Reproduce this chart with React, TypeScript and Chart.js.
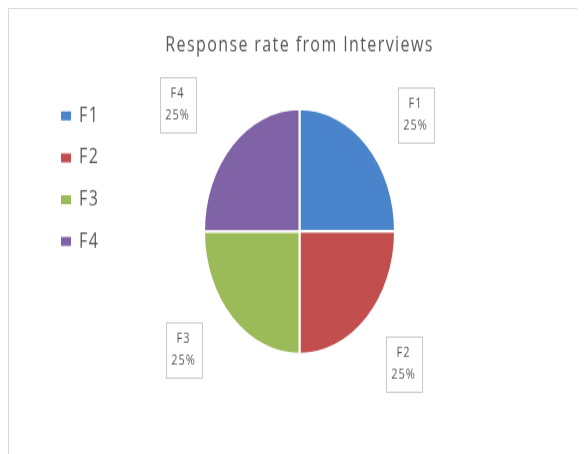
import React, { useEffect, useRef } from "react";
import { Chart, registerables } from "chart.js";

Chart.register(...registerables);

const categories = ["F1", "F2", "F3", "F4"];
const values = [25, 25, 25, 25];
const colors = ["#4A84CA", "#C24F4E", "#9BBB59", "#8062A6"];
const titleText = "Response rate from Interviews";

const SCALE_Y = 1.284;
const CW = 568;
const CH = 345;
const FONT = "'Open Sans', sans-serif";
const TEXT_COLOR = "#595959";
// offsets of the boxed data labels from the pie centre (unscaled canvas px)
const labelOffsets: [number, number][] = [
  [116, -91],
  [104, 103],
  [-116, 92],
  [-122, -99],
];

const total = values.reduce((a, b) => a + b, 0);
const percentLabels = values.map((v) => Math.round((v / total) * 100) + "%");

const spacing = {
  id: "letterSpacing",
  beforeDraw(chart: any) {
    chart.ctx.letterSpacing = "1.4px";
  },
  afterDraw(chart: any) {
    chart.ctx.letterSpacing = "0px";
  },
};

const boxedLabels = {
  id: "boxedLabels",
  afterDatasetsDraw(chart: any) {
    const ctx = chart.ctx;
    const meta = chart.getDatasetMeta(0);
    meta.data.forEach((arc: any, i: number) => {
      const { x, y } = arc.getProps(["x", "y"], true);
      const cx = x + labelOffsets[i][0];
      const cy = y + labelOffsets[i][1];
      const w = 36;
      const h = 43;
      const left = Math.round(cx - w / 2) + 0.5;
      const top = Math.round(cy - h / 2) + 0.5;
      ctx.save();
      ctx.letterSpacing = "1px";
      ctx.fillStyle = "#ffffff";
      ctx.fillRect(left, top, w, h);
      ctx.strokeStyle = "#c8c8c8";
      ctx.lineWidth = 1;
      ctx.strokeRect(left, top, w, h);
      ctx.fillStyle = TEXT_COLOR;
      ctx.font = `11px ${FONT}`;
      ctx.textAlign = "center";
      ctx.textBaseline = "middle";
      ctx.fillText(categories[i], cx, cy - 8.5);
      ctx.fillText(percentLabels[i], cx, cy + 8.5);
      ctx.restore();
    });
  },
};

export default function App() {
  const canvasRef = useRef<HTMLCanvasElement | null>(null);

  useEffect(() => {
    if (!canvasRef.current) return;
    const baseGen = (Chart as any).overrides.pie.plugins.legend.labels.generateLabels;
    const chart = new Chart(canvasRef.current, {
      type: "pie",
      data: {
        labels: categories,
        datasets: [
          {
            data: values,
            backgroundColor: colors,
            borderColor: "#ffffff",
            borderWidth: 2,
            radius: 95.5,
          } as any,
        ],
      },
      options: {
        responsive: true,
        maintainAspectRatio: false,
        animation: false,
        layout: { padding: { left: 35.4, right: 22.4, top: 19, bottom: 57 } },
        plugins: {
          title: {
            display: true,
            text: titleText,
            color: TEXT_COLOR,
            font: { family: FONT, size: 16, weight: "normal" },
            padding: { top: 0, bottom: 20.2 },
          },
          legend: {
            position: "chartArea" as any,
            align: "start",
            title: {
              display: true,
              text: "",
              font: { family: FONT, size: 10 },
              padding: { top: 46.7, bottom: 0 },
            },
            labels: {
              boxWidth: 10,
              boxHeight: 7,
              padding: 16.6,
              color: TEXT_COLOR,
              font: { family: FONT, size: 16 },
              generateLabels: (c: any) =>
                baseGen(c).map((it: any) => ({ ...it, lineWidth: 0 })),
            },
          },
          tooltip: { enabled: false },
        },
      },
      plugins: [spacing, boxedLabels],
    });
    return () => chart.destroy();
  }, []);

  return (
    <div
      style={{
        position: "fixed",
        left: 8,
        top: 8,
        width: 569,
        height: 446,
        borderLeft: "1px solid #d9d9d9",
        borderTop: "1px solid #d9d9d9",
        boxSizing: "border-box",
        overflow: "hidden",
        background: "#fff",
      }}
    >
      <div
        style={{
          position: "absolute",
          left: 0,
          top: 0,
          width: CW,
          height: CH,
          transform: `scaleY(${SCALE_Y})`,
          transformOrigin: "0 0",
        }}
      >
        <canvas ref={canvasRef} />
      </div>
    </div>
  );
}
